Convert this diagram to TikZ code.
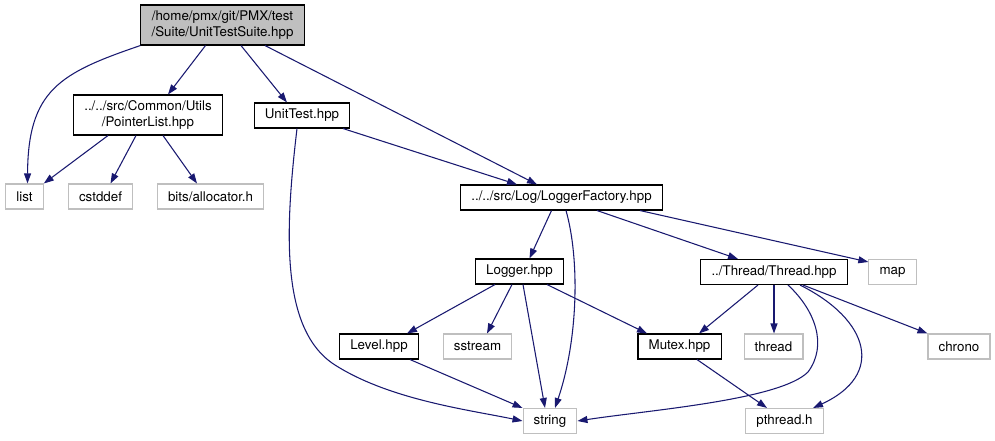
\documentclass[tikz,border=0pt]{standalone}
\usepackage{fontspec}
\setmainfont{TeX Gyre Heros}
\usetikzlibrary{calc, arrows.meta}
\definecolor{edgeblue}{HTML}{191970}
\definecolor{boxgray}{HTML}{BFBFBF}

\begin{document}
\begin{tikzpicture}[x=0.75pt, y=-0.75pt,
	font=\fontsize{10}{12.5}\selectfont,
	file/.style={draw=black, line width=0.8pt, fill=white, inner xsep=8pt, inner ysep=2pt, minimum height=18.75pt, align=center},
	sysfile/.style={file, draw=boxgray},
	rootfile/.style={file, fill=boxgray, minimum height=30pt},
	dep/.style={edgeblue, line width=0.8pt, -{Triangle[length=7.5pt, width=5.25pt]}}]
					\useasboundingbox (0,0) rectangle (995,440);
					% files
					\node[rootfile] (suite) at (222.5,25) {/home/pmx/git/PMX/test\\/Suite/UnitTestSuite.hpp};
					\node[file, minimum height=30pt] (ptrlist) at (148,115) {../../src/Common/Utils\\/PointerList.hpp};
					\node[file] (unittest) at (302,115.5) {UnitTest.hpp};
					\node[sysfile] (list) at (24.5,196.5) {list};
					\node[sysfile] (cstddef) at (100.5,196.5) {cstddef};
					\node[sysfile] (alloc) at (210.5,196.5) {bits/allocator.h};
					\node[file] (logfact) at (561.5,197.5) {../../src/Log/LoggerFactory.hpp};
					\node[file] (logger) at (519.5,271.5) {Logger.hpp};
					\node[file] (thrd) at (774,272) {../Thread/Thread.hpp};
					\node[sysfile] (map) at (892.5,272) {map};
					\node[file] (level) at (379,346.5) {Level.hpp};
					\node[sysfile] (sstream) at (477.5,346.5) {sstream};
					\node[file] (mutex) at (679.5,346.5) {Mutex.hpp};
					\node[sysfile] (thread) at (773.5,346.5) {thread};
					\node[sysfile] (chrono) at (959,346.5) {chrono};
					\node[sysfile] (string) at (550,421) {string};
					\node[sysfile] (pthread) at (784.5,421) {pthread.h};
					% includes
					\draw[dep] (suite.south west) .. controls (60,73) and (28,90) .. ($(list.north)+(3,0)$);
					\draw[dep] ($(suite.south)+(-17,0)$) -- ($(ptrlist.north)+(20,0)$);
					\draw[dep] ($(suite.south)+(18.5,0)$) -- ($(unittest.north)+(-15,0)$);
					\draw[dep] ($(suite.south)+(42.5,0)$) -- ($(logfact.north)+(-24.5,0)$);
					\draw[dep] ($(ptrlist.south)+(-40,0)$) -- (list.north east);
					\draw[dep] ($(ptrlist.south)+(-12,0)$) -- ($(cstddef.north)+(10,0)$);
					\draw[dep] ($(ptrlist.south)+(15,0)$) -- ($(alloc.north)+(-13.5,0)$);
					\draw[dep] ($(unittest.south)+(41,0)$) -- ($(logfact.north)+(-44.5,0)$);
					\draw[dep] ($(unittest.south)+(-5,0)$) .. controls (285,230) and (280,330) .. (335,365)
						.. controls (390,400) and (470,410) .. (string.west);
					\draw[dep] ($(logfact.south)+(-10,0)$) -- ($(logger.north)+(10,0)$);
					\draw[dep] ($(logfact.south)+(4.5,0)$) .. controls (580,260) and (578,340) .. ($(string.north)+(5,0)$);
					\draw[dep] ($(logfact.south)+(35.5,0)$) -- ($(thrd.north)+(-36,0)$);
					\draw[dep] ($(logfact.south)+(78.5,0)$) -- ($(map.north west)+(0,3)$);
					\draw[dep] ($(logger.south)+(-24.5,0)$) -- ($(level.north)+(28,0)$);
					\draw[dep] ($(logger.south)+(-7.5,0)$) -- ($(sstream.north)+(9.5,0)$);
					\draw[dep] ($(logger.south)+(3.5,0)$) -- ($(string.north)+(-5,0)$);
					\draw[dep] ($(logger.south)+(27.5,0)$) -- ($(mutex.north)+(-32.5,0)$);
					\draw[dep] ($(level.south)+(31,0)$) -- (string.north west);
					\draw[dep] ($(thrd.south)+(-16,0)$) -- ($(mutex.north)+(19.5,0)$);
					\draw[dep] (thrd.south) -- (thrd.south |- thread.north);
					\draw[dep] ($(thrd.south)+(14,0)$) .. controls (815,310) and (828,345) .. (808,372)
						.. controls (780,400) and (650,410) .. (string.east);
					\draw[dep] ($(thrd.south)+(26,0)$) .. controls (870,320) and (885,375) .. ($(pthread.north)+(28.5,0)$);
					\draw[dep] ($(thrd.south)+(29,0)$) -- (chrono.north west);
					\draw[dep] ($(mutex.south)+(17.5,0)$) -- ($(pthread.north)+(-17.5,0)$);
				\end{tikzpicture}
\end{document}
